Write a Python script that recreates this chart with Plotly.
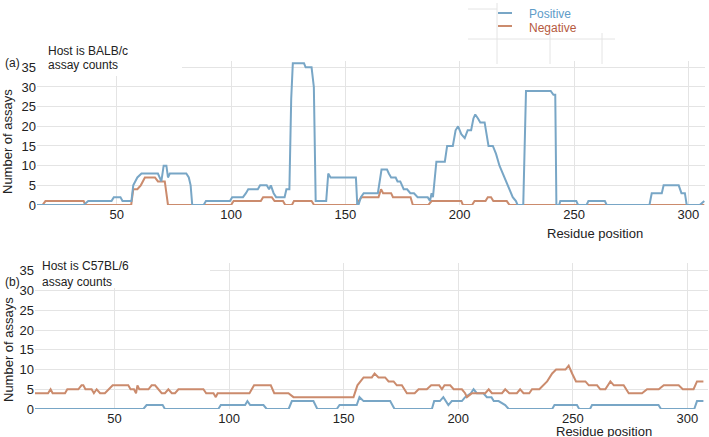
import plotly.graph_objects as go

# ---- data: (residue, count) vertices ----
a_pos_x = [15, 35.5, 37.5, 47.7, 48.7, 51.6, 52.5, 56.4, 57.2, 58, 59, 60.8, 68, 69.5, 70.5, 71.7,
           72.4, 73.2, 80.4, 81.5, 82.3, 83, 88, 89, 99.5, 100.5, 105.2, 106.5, 107.5, 111.7, 112.7,
           115.6, 116.6, 117.4, 118.6, 119.7, 123.4, 124.2, 125.5, 126.3, 127, 131.9, 132.6, 135.2,
           136.2, 137, 141.6, 142.5, 143.5, 154.6, 155.2, 155.7, 156.8, 158, 164.2, 165.8, 168.2,
           169, 170, 172, 172.8, 174, 175.5, 177, 178.4, 180, 181.6, 186, 187, 187.7, 188.3, 189.8,
           193.5, 194.5, 197, 198.2, 199.3, 200.7, 202.2, 203.5, 205, 206, 206.8, 208, 209, 210.9,
           211.7, 212.6, 214.5, 215.9, 217.4, 218.9, 220.3, 221.7, 223.2, 224.6, 225.3, 227.8, 229,
           239.8, 241, 241.8, 242.3, 243.5, 244, 251, 251.8, 255.5, 256.3, 263.5, 264.3, 283, 284,
           288.4, 289.2, 295.8, 297, 298.5, 299.3, 305, 307]
a_pos_y = [0, 0, 1, 1, 2, 2, 1, 1, 5, 6, 7, 8, 8, 6, 10, 10,
           7, 8, 8, 7, 5, 0, 0, 1, 1, 2, 2, 3, 4, 4, 5,
           5, 4, 5, 3, 2, 2, 4, 4, 27, 36, 36, 35, 35,
           30, 1, 1, 8, 7, 7, 0, 0, 2, 3, 3, 9, 9,
           8, 7, 7, 6, 6, 4, 4, 3, 3, 2, 2, 1, 3, 2, 11,
           11, 15, 15, 19, 20, 18, 17, 19, 19, 22, 23, 22, 21, 21,
           18, 15, 15, 13, 10, 8, 6, 4, 2, 1, 0, 0, 29,
           29, 28, 28, 0, 0, 1, 1, 0, 0, 1, 1, 0, 0, 3,
           3, 5, 5, 3, 3, 0, 0, 1]

a_neg_x = [15, 17.5, 18.8, 35.5, 36.3, 56.3, 57.2, 59, 60.5, 62.3, 66.7, 68, 71, 72.4, 100, 101.1,
           113, 114, 117.8, 119, 122.7, 123.7, 126.6, 127.5, 135.2, 136.3, 155, 155.8, 157, 164.5,
           165.6, 166.5, 170, 170.8, 178.5, 179.5, 186.3, 187.7, 200.7, 201.4, 205.4, 206.5, 211.3,
           212.3, 213.7, 214.7, 220.6, 221.8, 307]
a_neg_y = [0, 0, 1, 1, 0, 0, 4, 4, 5, 7, 7, 6, 6, 0, 0, 1,
           1, 2, 2, 1, 1, 0, 0, 1, 1, 0, 0, 1, 2, 2,
           4, 3, 3, 2, 2, 0, 0, 1, 1, 0, 0, 1, 1,
           2, 2, 1, 1, 0, 0]

b_pos_x = [15, 62.6, 64, 71, 72, 95.3, 96.4, 107, 108, 109.2, 115, 116.4, 126, 127.4, 136.8, 138.5,
           147, 148.2, 155.7, 156.9, 158.7, 170.3, 172.2, 188.5, 189.5, 192, 193.5, 195.7, 197.2,
           201.6, 203, 205.5, 206.7, 208.1, 211, 212.5, 214.5, 215.5, 217.6, 220.5, 222, 241, 242,
           251.8, 252.8, 257.5, 258.4, 287.4, 288.5, 303, 304.2, 307]
b_pos_y = [0, 0, 1, 1, 0, 0, 1, 1, 2, 1, 1, 0, 0, 2, 2, 0,
           0, 1, 1, 3, 2, 2, 0, 0, 2, 2, 3, 1, 2,
           2, 3, 4, 5, 4, 4, 3, 3, 2, 2, 1, 0, 0, 1,
           1, 0, 0, 1, 1, 0, 0, 2, 2]

b_neg_x = [15, 21, 22.1, 23, 28.4, 29.4, 34.2, 35.6, 36.4, 37.3, 40, 41, 42.2, 43.7, 45.8, 47.3,
           49.2, 56, 57, 58.5, 59.4, 60, 60.8, 64.8, 66.2, 67.7, 69.1, 70.6, 72, 73.5, 75, 76.4,
           77.9, 88.8, 90, 93.2, 94.2, 95, 108.9, 110.9, 118.2, 119.7, 125.9, 128.1, 154.3, 156,
           158.7, 162.3, 163.5, 165.2, 168.1, 169.6, 171.8, 173.2, 175.4, 177.6, 181, 182.7, 186.3,
           188.2, 191.7, 192.9, 194, 196.5, 198, 201.6, 203, 203.8, 206, 211.8, 213.3, 214.7, 219.1,
           220.5, 222.3, 225.6, 227, 228.5, 231, 232.2, 235.4, 237.3, 238.8, 241, 242.7, 246.8,
           248.2, 249.7, 251.4, 255.5, 257, 260.6, 262, 264.2, 266.4, 267.9, 272.2, 274.4, 280.2,
           282.4, 287.5, 289.7, 296.2, 298, 302.7, 304.2, 307]
b_neg_y = [4, 4, 5, 4, 4, 5, 5, 6, 6, 5, 5, 4, 5, 4, 4, 5,
           6, 6, 5, 5, 4, 6, 5, 5, 6, 6, 5, 4, 4, 5, 4, 4,
           5, 5, 4, 4, 3, 4, 4, 6, 6, 4, 4, 3, 3, 6,
           8, 8, 9, 8, 8, 7, 7, 6, 6, 4, 4, 5, 5,
           6, 6, 5, 6, 6, 5, 5, 4, 3, 4, 4, 5, 4, 4,
           5, 4, 4, 5, 4, 4, 5, 5, 6, 7, 9, 10, 10,
           11, 9, 7, 7, 6, 6, 5, 5, 7, 6, 6, 4, 4,
           5, 5, 6, 6, 5, 5, 7, 7]

x_ticks = [50, 100, 150, 200, 250, 300]
y_ticks = [0, 5, 10, 15, 20, 25, 30, 35]

BLUE = '#78a6c6'
ORANGE = '#cb8b6d'
GRID = '#e4e4e4'
FONT = 'Liberation Sans'
W, H = 709, 437      # layout measured in the 709x437 picture
FIG_H = 446          # the page comes out ~2% squashed vertically, so draw a bit taller


def px(x):
    return x / W


def py(y):
    return 1 - y / H


fig = go.Figure()
fig.add_trace(go.Scatter(x=a_neg_x, y=a_neg_y, mode='lines', line=dict(color=ORANGE, width=2),
                         xaxis='x', yaxis='y', showlegend=False))
fig.add_trace(go.Scatter(x=a_pos_x, y=a_pos_y, mode='lines', line=dict(color=BLUE, width=2),
                         xaxis='x', yaxis='y', showlegend=False))
fig.add_trace(go.Scatter(x=b_pos_x, y=b_pos_y, mode='lines', line=dict(color=BLUE, width=2),
                         xaxis='x2', yaxis='y2', showlegend=False))
fig.add_trace(go.Scatter(x=b_neg_x, y=b_neg_y, mode='lines', line=dict(color=ORANGE, width=2),
                         xaxis='x2', yaxis='y2', showlegend=False))

xax = dict(tickvals=x_ticks, showgrid=True, gridcolor=GRID, gridwidth=1,
           zeroline=False, showline=False, ticks='', tickfont=dict(size=13, color='#222'))
yax = dict(tickvals=y_ticks, showgrid=True, gridcolor=GRID, gridwidth=1, zeroline=False,
           showline=False, ticks='', tickfont=dict(size=13, color='#222'))

fig.update_layout(
    width=W, height=FIG_H,
    margin=dict(l=0, r=0, t=0, b=0),
    paper_bgcolor='white', plot_bgcolor='white',
    font=dict(family=FONT, size=13, color='#222'),
    xaxis=dict(xax, domain=[px(37), px(705)], anchor='y', range=[15.1, 307.3]),
    yaxis=dict(yax, domain=[py(204), py(60)], range=[0, 36.6], anchor='x'),
    xaxis2=dict(xax, domain=[px(35), px(708)], anchor='y2', range=[15.3, 309]),
    yaxis2=dict(yax, domain=[py(408), py(262)], range=[0, 37], anchor='x2'),
)

# white boxes behind the panel captions (they hide the grid there)
shapes = [
    dict(type='rect', xref='paper', yref='paper', x0=px(37), x1=px(182), y0=py(75), y1=py(40),
         fillcolor='white', line=dict(width=0), layer='above'),
    dict(type='rect', xref='paper', yref='paper', x0=px(35), x1=px(210), y0=py(287), y1=py(250),
         fillcolor='white', line=dict(width=0), layer='above'),
]
# faint grid fragments around the legend
for x0, y0, x1, y1 in [(468, 8, 497, 8), (468, 38, 615, 38), (497, 2, 497, 63),
                       (550, 33, 550, 63), (602, 32, 602, 63)]:
    shapes.append(dict(type='line', xref='paper', yref='paper', x0=px(x0), y0=py(y0),
                       x1=px(x1), y1=py(y1), line=dict(color=GRID, width=1)))
# legend keys
shapes.append(dict(type='line', xref='paper', yref='paper', x0=px(498), x1=px(512),
                   y0=py(12), y1=py(12), line=dict(color=BLUE, width=2)))
shapes.append(dict(type='line', xref='paper', yref='paper', x0=px(498), x1=px(512),
                   y0=py(25), y1=py(25), line=dict(color=ORANGE, width=2)))
fig.update_layout(shapes=shapes)


def note(text, x, y, xanchor='left', size=13, color='#222', angle=0):
    fig.add_annotation(text=text, x=px(x), y=py(y), xref='paper', yref='paper',
                       xanchor=xanchor, yanchor='middle', showarrow=False, textangle=angle,
                       font=dict(family=FONT, size=size, color=color))


note('Positive', 527, 13, size=12, color='#5e9cc8')
note('Negative', 527, 27, size=12, color='#b65a40')

note('(a)', 12, 62, xanchor='center', size=12)
note('Host is BALB/c', 46, 50, size=12)
note('assay counts', 46, 64, size=12)
note('Number of assays', 8, 141, xanchor='center', size=13, angle=-90)
note('Residue position', 595, 233, xanchor='center', size=13)

note('(b)', 12, 281, xanchor='center', size=12)
note('Host is C57BL/6', 40, 265, size=12)
note('assay counts', 40, 281, size=12)
note('Number of assays', 8, 349, xanchor='center', size=13, angle=-90)
note('Residue position', 604, 430, xanchor='center', size=13)

# the page's default body margin would push the chart 8px off the window
fig.write_html("out.html", config={'displayModeBar': False},
               post_script="document.body.style.margin='0';")
